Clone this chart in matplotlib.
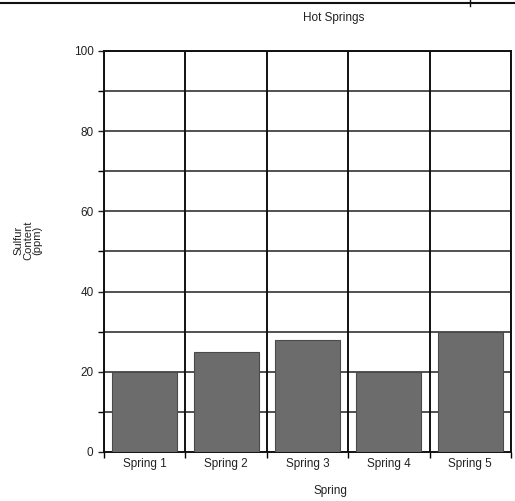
import numpy as np
import matplotlib
matplotlib.use("Agg")
import matplotlib.pyplot as plt
from matplotlib.lines import Line2D

springs = ["Spring 1", "Spring 2", "Spring 3", "Spring 4", "Spring 5"]
sulfur_ppm = [20, 25, 28, 20, 30]
y_ticks = [0, 20, 40, 60, 80, 100]

plt.rcParams['font.family'] = ['Liberation Sans', 'DejaVu Sans']

fig = plt.figure(figsize=(5.15, 5.01), dpi=100)
ax = fig.add_axes([104 / 515, 1 - 452 / 501, 407 / 515, 401 / 501])

x = np.arange(len(springs))
ax.bar(x, sulfur_ppm, width=0.8, color='#6c6c6c', edgecolor='#4a4a4a',
       linewidth=0.8, zorder=3)

ax.set_xlim(-0.5, len(springs) - 0.5)
ax.set_ylim(0, 100)

# horizontal grid every 10, vertical lines at category edges
for yv in range(10, 101, 10):
    ax.axhline(yv, color='#222222', lw=1.1, zorder=1)
for xv in np.arange(-0.5, len(springs), 1.0):
    ax.axvline(xv, color='#111111', lw=1.4, zorder=1)

ax.set_yticks(y_ticks)
ax.set_yticks(range(10, 100, 20), minor=True)
ax.set_xticks(x)
ax.set_xticklabels(springs)
ax.set_xticks(np.arange(-0.5, len(springs), 1.0), minor=True)
ax.tick_params(axis='both', which='major', labelsize=8.5, colors='#222222')
ax.tick_params(axis='y', which='both', length=4, width=1)
ax.tick_params(axis='x', which='major', length=0, pad=4)
ax.tick_params(axis='x', which='minor', length=4, width=1)

for s in ax.spines.values():
    s.set_color('#111111')
    s.set_linewidth(1.4)

fig.text(334 / 515, 1 - 18 / 501, "Hot Springs", ha='center', va='center',
         fontsize=8.5, color='#222222')
fig.text(330 / 515, 1 - 491 / 501, "Spring", ha='center', va='center',
         fontsize=8.5, color='#222222')
fig.text(28 / 515, 1 - 240 / 501, "Sulfur\nContent\n(ppm)", ha='center',
         va='center', rotation=90, fontsize=8, color='#222222',
         linespacing=0.95)

# scanned page border at top
fig.add_artist(Line2D([0, 1], [1 - 3 / 501, 1 - 3 / 501], color='#111111', lw=1.5))
fig.add_artist(Line2D([470 / 515, 470 / 515], [1, 1 - 6 / 501], color='#111111', lw=1))

fig.savefig("out.png", dpi=100)
